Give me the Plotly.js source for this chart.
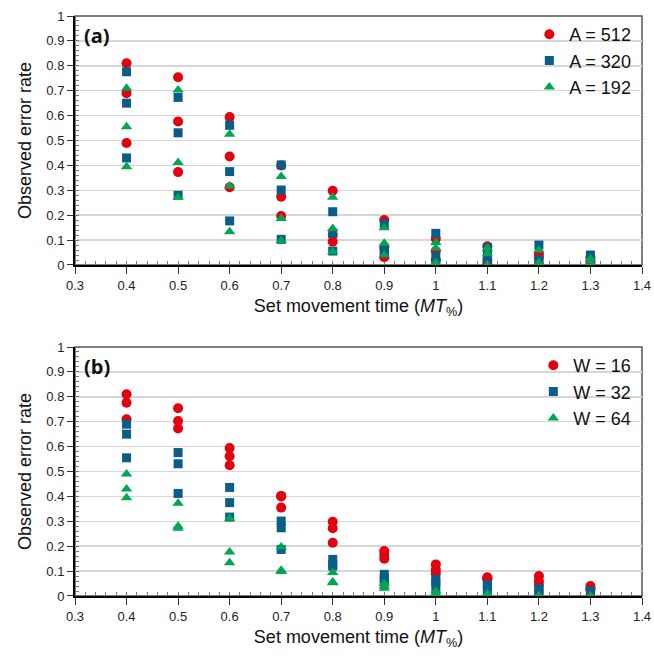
<!DOCTYPE html>
<html>
<head>
<meta charset="utf-8">
<script src="https://cdn.plot.ly/plotly-3.0.1.min.js"></script>
<style>html,body{margin:0;padding:0;background:#fff;}#chart{width:654px;height:660px;}</style>
</head>
<body>
<div id="chart"></div>
<script>
// Set movement time (MT%)
const mt = [0.4, 0.5, 0.6, 0.7, 0.8, 0.9, 1.0, 1.1, 1.2, 1.3];

// Observed error rate for each amplitude A and target width W
const a512_w16 = [0.81, 0.754, 0.594, 0.40, 0.298, 0.181, 0.105, 0.075, 0.045, 0.03];
const a512_w32 = [0.69, 0.576, 0.436, 0.274, 0.12, 0.07, 0.056, 0.02, 0.03, 0.01];
const a512_w64 = [0.49, 0.373, 0.312, 0.197, 0.094, 0.031, 0.02, 0.005, 0.0, 0.0];

const a320_w16 = [0.776, 0.673, 0.561, 0.402, 0.214, 0.165, 0.127, 0.07, 0.08, 0.04];
const a320_w32 = [0.65, 0.531, 0.375, 0.301, 0.127, 0.06, 0.033, 0.04, 0.02, 0.02];
const a320_w64 = [0.43, 0.28, 0.177, 0.103, 0.056, 0.05, 0.01, 0.01, 0.0, 0.0];

const a192_w16 = [0.71, 0.703, 0.525, 0.355, 0.272, 0.15, 0.09, 0.067, 0.06, 0.025];
const a192_w32 = [0.555, 0.412, 0.317, 0.187, 0.147, 0.087, 0.067, 0.045, 0.01, 0.01];
const a192_w64 = [0.395, 0.272, 0.134, 0.098, 0.053, 0.04, 0.01, 0.0, 0.0, 0.0];

const labelsA = ["A = 512", "A = 320", "A = 192"];
const labelsW = ["W = 16", "W = 32", "W = 64"];
const xTicks = [0.3, 0.4, 0.5, 0.6, 0.7, 0.8, 0.9, 1, 1.1, 1.2, 1.3, 1.4];
const yTicks = [0, 0.1, 0.2, 0.3, 0.4, 0.5, 0.6, 0.7, 0.8, 0.9, 1];

const colors = ["#e3000f", "#0a5c8a", "#00a651"];
const symbols = ["circle", "square", "triangle-up"];
const sizes = [10, 9, 10];

const x3 = mt.concat(mt, mt);
const groupsA = [
  a512_w16.concat(a512_w32, a512_w64),
  a320_w16.concat(a320_w32, a320_w64),
  a192_w16.concat(a192_w32, a192_w64)
];
const groupsW = [
  a512_w16.concat(a320_w16, a192_w16),
  a512_w32.concat(a320_w32, a192_w32),
  a512_w64.concat(a320_w64, a192_w64)
];

const traces = [];
groupsA.forEach((ys, i) => traces.push({
  type: "scatter", mode: "markers", x: x3, y: ys, name: labelsA[i],
  xaxis: "x", yaxis: "y", legend: "legend",
  marker: {color: colors[i], symbol: symbols[i], size: sizes[i]}
}));
groupsW.forEach((ys, i) => traces.push({
  type: "scatter", mode: "markers", x: x3, y: ys, name: labelsW[i],
  xaxis: "x2", yaxis: "y2", legend: "legend2",
  marker: {color: colors[i], symbol: symbols[i], size: sizes[i]}
}));

const FAM = "'Liberation Sans', Arial, sans-serif";
const tickFont = {family: FAM, size: 13, color: "#222"};
const titleFont = {family: FAM, size: 18, color: "#111"};

function xAxis(anchor) {
  return {
    anchor: anchor, range: [0.3, 1.4], tickmode: "array", tickvals: xTicks,
    ticktext: xTicks.map(String), ticks: "outside", ticklen: 7, tickcolor: "#333",
    showgrid: false, zeroline: false, showline: true, linecolor: "#000", linewidth: 2,
    tickfont: tickFont,
    minor: {dtick: 0.02, ticks: "inside", ticklen: 4, tickcolor: "#777", showgrid: false},
    title: {text: "Set movement time (<i>MT</i><sub>%</sub>)", font: titleFont, standoff: 8}
  };
}
function yAxis(anchor, domain) {
  return {
    anchor: anchor, domain: domain, range: [0, 1], tickmode: "array", tickvals: yTicks,
    ticktext: yTicks.map(String), ticks: "outside", ticklen: 6, tickcolor: "#333",
    showgrid: true, gridcolor: "#d6d6d6", gridwidth: 1.5, zeroline: false,
    showline: true, linecolor: "#000", linewidth: 2, tickfont: tickFont,
    minor: {dtick: 0.02, ticks: "inside", ticklen: 4, tickcolor: "#777", showgrid: false},
    title: {text: "Observed error rate", font: titleFont, standoff: 10}
  };
}

const legendStyle = {
  xanchor: "right", yanchor: "top", bgcolor: "rgba(0,0,0,0)",
  font: {family: FAM, size: 18, color: "#111"},
  itemwidth: 30, tracegroupgap: 0
};

const topDom = [0.5707, 1];
const botDom = [0, 0.4293];

const layout = {
  width: 654, height: 660,
  margin: {l: 75, r: 12, t: 16, b: 64},
  paper_bgcolor: "#fff", plot_bgcolor: "#fff",
  showlegend: true,
  xaxis: xAxis("y"),
  yaxis: yAxis("x", topDom),
  xaxis2: xAxis("y2"),
  yaxis2: yAxis("x2", botDom),
  legend: Object.assign({x: 0.99, y: 1.0}, legendStyle),
  legend2: Object.assign({x: 0.99, y: 0.4293}, legendStyle),
  shapes: [
    {type: "rect", xref: "x domain", yref: "y domain", x0: 0, x1: 1, y0: 0, y1: 1,
     line: {color: "#555", width: 1.5}, layer: "below"},
    {type: "rect", xref: "x2 domain", yref: "y2 domain", x0: 0, x1: 1, y0: 0, y1: 1,
     line: {color: "#555", width: 1.5}, layer: "below"}
  ],
  annotations: [
    {text: "<b>(a)</b>", xref: "x domain", yref: "y domain", x: 0.012, y: 0.985,
     xanchor: "left", yanchor: "top", showarrow: false,
     font: {family: "'Open Sans', sans-serif", size: 20, color: "#111"}},
    {text: "<b>(b)</b>", xref: "x2 domain", yref: "y2 domain", x: 0.012, y: 0.985,
     xanchor: "left", yanchor: "top", showarrow: false,
     font: {family: "'Open Sans', sans-serif", size: 20, color: "#111"}}
  ]
};

Plotly.newPlot("chart", traces, layout, {displayModeBar: false, staticPlot: true});
</script>
</body>
</html>
